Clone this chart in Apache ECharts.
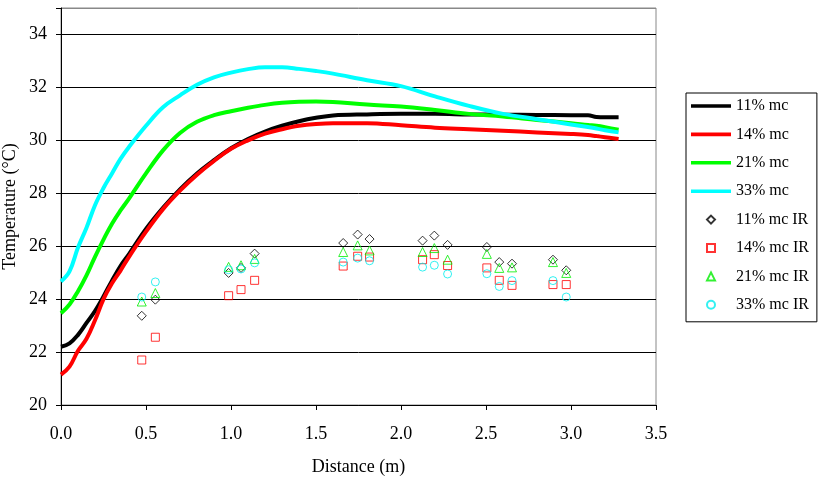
<!DOCTYPE html>
<html>
<head>
<meta charset="utf-8">
<script src="https://cdn.jsdelivr.net/npm/echarts@6/dist/echarts.min.js"></script>
<style>html,body{margin:0;padding:0;background:#fff}#c{width:822px;height:478px}</style>
</head>
<body>
<div id="c"></div>
<script>
// Model curves
const distance = [0, 0.05, 0.1, 0.15, 0.2, 0.25, 0.3, 0.35, 0.4, 0.5, 0.6, 0.7, 0.8, 0.9, 1.0, 1.1, 1.2, 1.3, 1.4, 1.5, 1.6, 1.8, 2.0, 2.2, 2.4, 2.6, 2.8, 3.0, 3.1, 3.15, 3.2, 3.28];
const mc11 = [22.2, 22.33, 22.65, 23.1, 23.55, 24.1, 24.7, 25.25, 25.7, 26.65, 27.45, 28.15, 28.75, 29.25, 29.7, 30.05, 30.33, 30.55, 30.72, 30.85, 30.94, 30.98, 31.0, 31.0, 30.98, 30.97, 30.96, 30.95, 30.95, 30.88, 30.87, 30.87];
const mc14 = [21.15, 21.45, 22.05, 22.5, 23.2, 24.0, 24.6, 25.08, 25.6, 26.55, 27.4, 28.1, 28.7, 29.22, 29.68, 30.0, 30.25, 30.42, 30.55, 30.62, 30.65, 30.65, 30.57, 30.48, 30.42, 30.36, 30.3, 30.24, 30.2, 30.16, 30.12, 30.05];
const mc21 = [23.47, 23.8, 24.3, 24.9, 25.6, 26.25, 26.85, 27.35, 27.8, 28.75, 29.62, 30.28, 30.7, 30.95, 31.1, 31.23, 31.34, 31.42, 31.46, 31.47, 31.45, 31.35, 31.28, 31.15, 31.0, 30.9, 30.77, 30.65, 30.58, 30.55, 30.5, 30.4];
const mc33 = [24.67, 25.05, 25.95, 26.7, 27.55, 28.2, 28.75, 29.3, 29.75, 30.55, 31.25, 31.7, 32.1, 32.38, 32.56, 32.69, 32.76, 32.76, 32.7, 32.62, 32.52, 32.27, 32.05, 31.66, 31.3, 31.0, 30.8, 30.6, 30.5, 30.45, 30.38, 30.3];

// IR measurements
const irDistance = [0.475, 0.555, 0.986, 1.059, 1.139, 1.66, 1.745, 1.815, 2.127, 2.196, 2.274, 2.505, 2.578, 2.653, 2.894, 2.972];
const ir11 = [23.37, 23.98, 24.99, 25.18, 25.72, 26.12, 26.44, 26.27, 26.21, 26.4, 26.05, 25.97, 25.4, 25.34, 25.49, 25.09];
const ir14 = [21.70, 22.56, 24.13, 24.36, 24.71, 25.25, 25.62, 25.59, 25.49, 25.68, 25.27, 25.18, 24.71, 24.52, 24.55, 24.55];
const ir21 = [23.91, 24.23, 25.22, 25.28, 25.52, 25.78, 26.03, 25.84, 25.78, 25.93, 25.49, 25.71, 25.18, 25.2, 25.4, 24.99];
const ir33 = [24.08, 24.65, 25.11, 25.14, 25.37, 25.4, 25.55, 25.45, 25.21, 25.28, 24.95, 24.96, 24.48, 24.7, 24.7, 24.08];

const lineNames = ['11% mc', '14% mc', '21% mc', '33% mc'];
const irNames = ['11% mc IR', '14% mc IR', '21% mc IR', '33% mc IR'];

const FONT = "'Liberation Serif', 'Times New Roman', serif";
const pair = (xs, ys) => xs.map((x, i) => [x, ys[i]]);

const lineColors = ['#000000', '#ff0000', '#00ff00', '#00ffff'];
const lineData = [mc11, mc14, mc21, mc33];
const irData = [ir11, ir14, ir21, ir33];
const irSymbols = ['diamond', 'rect', 'triangle', 'circle'];
const irSizes = [9, 8, 9, 8];
const irColors = ['#000000', '#ff0000', '#00ee00', '#00eeee'];

// legend icons
const LINE_ICON = 'path://M0,0H0.01V0.01H0Z M0,2.5H40V6.5H0Z M0,8.99H0.01V9H0Z';
const irLegendIcons = ['path://M5,0L10,5L5,10L0,5Z', 'path://M0,0H10V10H0Z', 'path://M5,0L10,10H0Z', 'circle'];

const series = [];
lineData.forEach((d, i) => {
  series.push({
    name: lineNames[i], type: 'line', data: pair(distance, d),
    symbol: 'none', smooth: 0.4,
    lineStyle: { color: lineColors[i], width: 4 }, itemStyle: { color: lineColors[i] },
    animation: false, z: 2
  });
});
irData.forEach((d, i) => {
  series.push({
    name: irNames[i], type: 'scatter', data: pair(irDistance, d),
    symbol: irSymbols[i], symbolSize: irSizes[i],
    itemStyle: { color: 'rgba(255,255,255,0)', borderColor: irColors[i], borderWidth: 1 },
    animation: false, z: 3
  });
});

const legendData = lineNames.map(n => ({ name: n, icon: LINE_ICON, symbolKeepAspect: false }))
  .concat(irNames.map((n, i) => ({ name: n, icon: irLegendIcons[i], symbolKeepAspect: true })));

const chart = echarts.init(document.getElementById('c'), null, { renderer: 'canvas' });
chart.setOption({
  backgroundColor: '#ffffff',
  textStyle: { fontFamily: FONT },
  grid: { left: 61, right: 166, top: 8, bottom: 73, outerBoundsMode: 'none', containLabel: false, show: true, borderColor: '#888888', borderWidth: 1, backgroundColor: 'transparent' },
  legend: {
    orient: 'vertical', left: 686, top: 93,
    padding: [5, 8, 9, 5], itemGap: 12.4, itemWidth: 40, itemHeight: 8,
    borderColor: '#000', borderWidth: 1, backgroundColor: '#fff',
    textStyle: { fontFamily: FONT, fontSize: 16, color: '#000', lineHeight: 16 },
    data: legendData
  },
  xAxis: {
    type: 'value', min: 0, max: 3.5, interval: 0.5,
    name: 'Distance (m)', nameLocation: 'middle', nameGap: 53, nameMoveOverlap: false,
    nameTextStyle: { fontFamily: FONT, fontSize: 18, color: '#000' },
    axisLine: { show: true, onZero: false, lineStyle: { color: '#000', width: 1 } },
    axisTick: { show: true, length: 5, lineStyle: { color: '#000' } },
    axisLabel: { margin: 20, fontFamily: FONT, fontSize: 18, color: '#000', formatter: v => v.toFixed(1) },
    splitLine: { show: false }
  },
  yAxis: {
    type: 'value', min: 20, max: 35, interval: 2,
    name: 'Temperature (°C)', nameLocation: 'middle', nameGap: 42, nameMoveOverlap: false,
    nameTextStyle: { fontFamily: FONT, fontSize: 18, color: '#000' },
    axisLine: { show: true, onZero: false, lineStyle: { color: '#000', width: 1 } },
    axisTick: { show: true, length: 5, lineStyle: { color: '#000' } },
    axisLabel: { margin: 14, fontFamily: FONT, fontSize: 18, color: '#000', formatter: v => (v > 34 ? '' : String(v)) },
    splitLine: { show: true, lineStyle: { color: ['#000', '#000', '#000', '#000', '#000', '#000', '#000', '#000', '#888'], width: 1 } }
  },
  series: series
});
</script>
</body>
</html>
